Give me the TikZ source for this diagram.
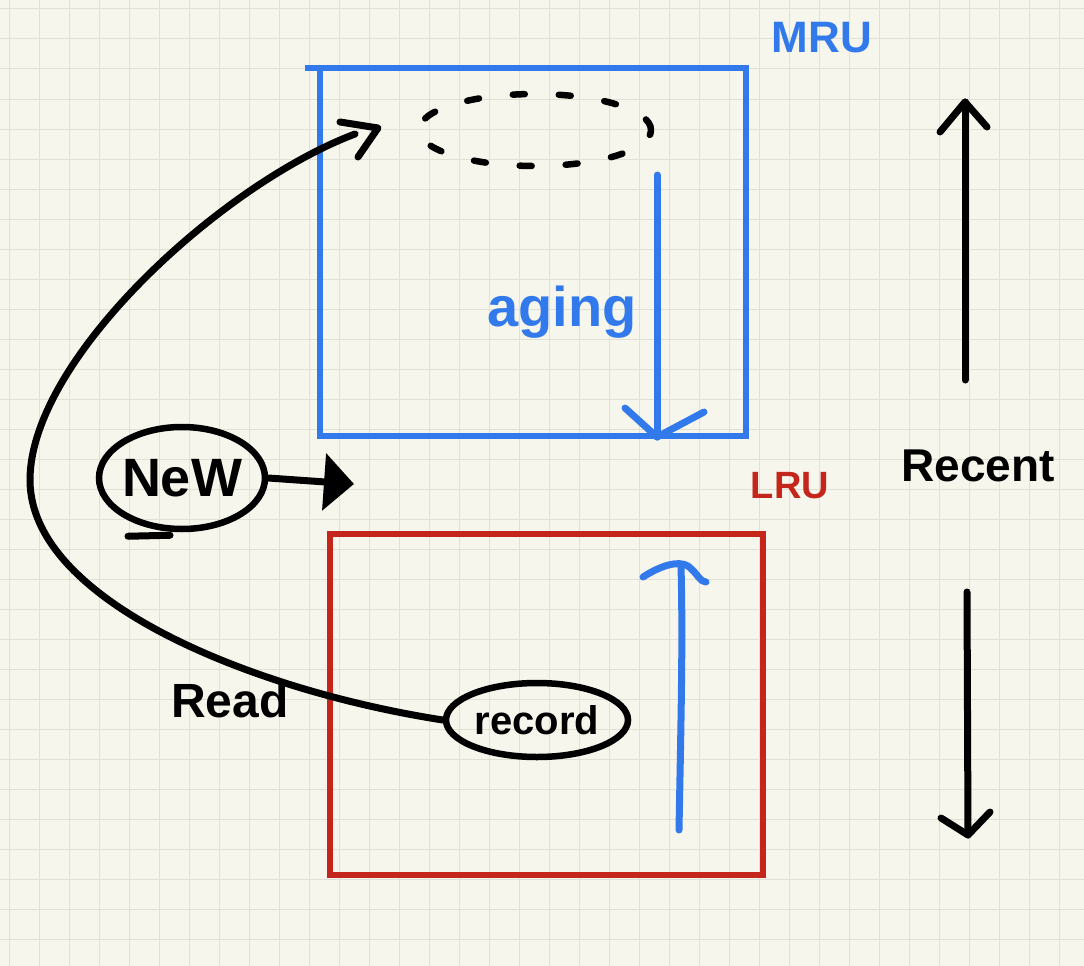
\documentclass[tikz,border=0pt]{standalone}
\usepackage{fontspec}
\setmainfont{Liberation Sans}
\usetikzlibrary{shapes.geometric,arrows.meta}
\definecolor{paper}{RGB}{247,246,236}
\definecolor{gridc}{RGB}{224,224,212}
\definecolor{inkblue}{RGB}{50,122,235}
\definecolor{inkred}{RGB}{196,38,28}
\newcommand\handsize[1]{\fontsize{#1}{#1}\selectfont\bfseries}
\begin{document}
\begin{tikzpicture}[x=1pt,y=-1pt,
  boxframe/.style={draw, rectangle, line width=6pt, inner sep=0pt, outer sep=0pt},
  ink/.style={line width=7pt, line cap=round, line join=round},
  oval/.style={ellipse, draw, line width=6.5pt, inner ysep=0pt, inner xsep=-10pt}]
\fill[paper] (0,0) rectangle (1084,966);
\useasboundingbox (0,0) rectangle (1084,966);
\foreach \i in {9,39,...,1083} \draw[gridc, line width=1pt] (\i,0) -- (\i,966);
\foreach \j in {9,39,...,965} \draw[gridc, line width=1pt] (0,\j) -- (1084,\j);

% MRU box
\node[boxframe, draw=inkblue, minimum width=426pt, minimum height=368pt] (mru) at (533,252) {};
\draw[inkblue, line width=6pt] (mru.north west) -- ++(-15,0);
\node[text=inkblue, font=\handsize{44}] (mrulabel) at (822,38) {MRU};

% LRU box
\node[boxframe, draw=inkred, minimum width=433pt, minimum height=341pt] (lru) at (546.5,704.5) {};
\node[text=inkred, font=\handsize{38}] (lrulabel) at (790,486) {LRU};

% dashed group of pages
\node[ellipse, draw, dash pattern=on 12pt off 34pt, line width=6.5pt, line cap=round,
      minimum width=232pt, minimum height=72pt] (pages) at (535,130) {};

% aging arrow
\coordinate (agetop) at (657,175);
\coordinate (agebot) at (657,437);
\draw[inkblue, ink] (agetop) -- (agebot);
\draw[inkblue, ink] (agebot) ++(-32,-29) -- (agebot) -- ++(47,-25);
\node[text=inkblue, font=\handsize{56}] (aging) at (562,312) {aging};

% rising arrow in LRU
\coordinate (risebot) at (679,830);
\coordinate (risetop) at (681,566);
\coordinate (capl) at (643,577);
\coordinate (capr) at (706,582);
\draw[inkblue, ink] (risebot) .. controls (681,720) and (683,640) .. (risetop);
\draw[inkblue, ink] (capl) .. controls (660,566) and (678,560) .. (688,566)
                    .. controls (698,574) and (700,582) .. (capr);

% Recent axis
\node[font=\handsize{46}] (recent) at (978,466) {Recent};
\coordinate (uptail) at (965,380);
\coordinate (uptip) at (965,102);
\draw[ink] (uptail) -- (uptip);
\draw[ink] (uptip) ++(-25,30) -- (uptip) -- ++(22,25);
\coordinate (downtail) at (967,592);
\coordinate (downtip) at (968,835);
\draw[ink] (downtail) -- (downtip);
\draw[ink] (downtip) ++(-27,-17) -- (downtip) -- ++(22,-23);

% New
\node[oval, minimum width=166pt, minimum height=102pt, font=\handsize{54}] (new) at (182,478) {NeW};
\draw[ink] (new.south) ++(-12,3) -- ++(-42,1);
\coordinate (newtip) at (354,484);
\draw[ink, -{Triangle[length=30pt,width=56pt]}] (new.east) -- (newtip);

% record and read curve
\node[oval, minimum width=182pt, minimum height=74pt, font=\handsize{40}] (rec) at (537,720) {record};
\coordinate (pagesin) at (378,128);
\coordinate (curveend) at (355,134);
\draw[ink] (rec.west) .. controls (250,690) and (30,600) .. (30,480)
                     .. controls (30,360) and (220,185) .. (curveend);
\draw[ink] (pagesin) ++(-38,-6) -- (pagesin) -- ++(-20,29);
\node[font=\handsize{48}] (read) at (230,700) {Read};
\end{tikzpicture}
\end{document}
